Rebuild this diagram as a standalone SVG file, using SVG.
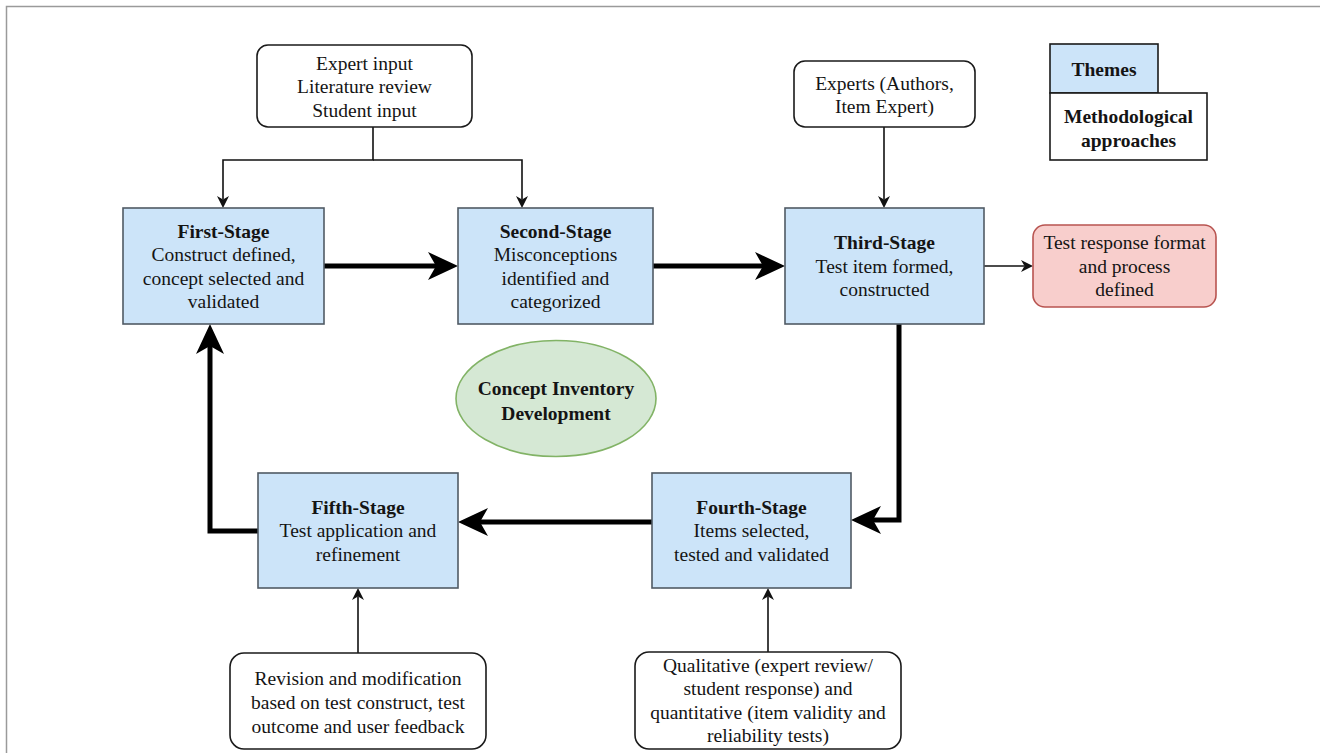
<svg xmlns="http://www.w3.org/2000/svg" width="1320" height="753" viewBox="0 0 1320 753">
<style>
  text { font-family: "Liberation Serif", "Times New Roman", serif; font-size: 19.5px; fill: #141414; text-anchor: middle; }
  .b { font-weight: bold; }
  .stage { fill: #cce4f9; stroke: #505a64; stroke-width: 1.6; }
  .input { fill: #ffffff; stroke: #1a1a1a; stroke-width: 1.6; }
  .thin { fill: none; stroke: #111; stroke-width: 1.6; marker-end: url(#thinHead); }
  .thick { fill: none; stroke: #000; stroke-width: 5; stroke-linejoin: miter; marker-end: url(#thickHead); }
</style>
<defs>
  <marker id="thinHead" markerUnits="userSpaceOnUse" markerWidth="12" markerHeight="12" viewBox="0 0 12 12" refX="3.5" refY="6" orient="auto">
    <path d="M0,0 L12,6 L0,12 L3.5,6 z" fill="#111"/>
  </marker>
  <marker id="thickHead" markerUnits="userSpaceOnUse" markerWidth="30" markerHeight="28" viewBox="0 0 30 28" refX="8" refY="14" orient="auto">
    <path d="M0,0 L30,14 L0,28 L8,14 z" fill="#000"/>
  </marker>
</defs>
<rect x="0" y="0" width="1320" height="753" fill="#ffffff"/>
<path d="M6.5,753 V6.5 H1320" fill="none" stroke="#9a9a9a" stroke-width="1.5"/>

<g id="connectors">
  <path class="thin" d="M373,127 V160 H223 V199.5"/>
  <path class="thin" d="M373,160 H522 V199.5"/>
  <path class="thin" d="M884,127 V199.5"/>
  <path class="thin" d="M984,266 H1024.5"/>
  <path class="thin" d="M358,653 V596.5"/>
  <path class="thin" d="M768,652 V596.5"/>
  <path class="thick" d="M324,266 H436"/>
  <path class="thick" d="M653,266 H763"/>
  <path class="thick" d="M899,324 V520 H873"/>
  <path class="thick" d="M652,522 H480"/>
  <path class="thick" d="M258,531 H210 V346"/>
</g>

<g id="input-top">
  <rect class="input" x="257" y="45" width="215" height="82" rx="11"/>
  <text x="364.5" y="69.5">Expert input</text>
  <text x="364.5" y="93">Literature review</text>
  <text x="364.5" y="116.5">Student input</text>
</g>

<g id="input-experts">
  <rect class="input" x="794" y="61" width="181" height="66" rx="11"/>
  <text x="884.5" y="89.5">Experts (Authors,</text>
  <text x="884.5" y="113">Item Expert)</text>
</g>

<g id="legend">
  <rect x="1050" y="44" width="108" height="49" fill="#cce4f9" stroke="#1a1a1a" stroke-width="1.6"/>
  <text class="b" x="1104" y="75.5">Themes</text>
  <rect x="1050" y="93" width="157" height="67" fill="#ffffff" stroke="#1a1a1a" stroke-width="1.6"/>
  <text class="b" x="1128.5" y="123">Methodological</text>
  <text class="b" x="1128.5" y="146.5">approaches</text>
</g>

<g id="first-stage">
  <rect class="stage" x="123" y="208" width="201" height="116"/>
  <text class="b" x="223.5" y="237.5">First-Stage</text>
  <text x="223.5" y="261">Construct defined,</text>
  <text x="223.5" y="284.5">concept selected and</text>
  <text x="223.5" y="308">validated</text>
</g>

<g id="second-stage">
  <rect class="stage" x="458" y="208" width="195" height="116"/>
  <text class="b" x="555.5" y="237.5">Second-Stage</text>
  <text x="555.5" y="261">Misconceptions</text>
  <text x="555.5" y="284.5">identified and</text>
  <text x="555.5" y="308">categorized</text>
</g>

<g id="third-stage">
  <rect class="stage" x="785" y="208" width="199" height="116"/>
  <text class="b" x="884.5" y="249">Third-Stage</text>
  <text x="884.5" y="272.5">Test item formed,</text>
  <text x="884.5" y="296">constructed</text>
</g>

<g id="response-format">
  <rect x="1033" y="225" width="183" height="82" rx="12" fill="#f8cecc" stroke="#b85450" stroke-width="1.6"/>
  <text x="1124.5" y="249">Test response format</text>
  <text x="1124.5" y="272.5">and process</text>
  <text x="1124.5" y="296">defined</text>
</g>

<g id="center">
  <ellipse cx="556" cy="398.5" rx="100" ry="58" fill="#d5e8d4" stroke="#82b366" stroke-width="1.6"/>
  <text class="b" x="556" y="394.5">Concept Inventory</text>
  <text class="b" x="556" y="419.5">Development</text>
</g>

<g id="fifth-stage">
  <rect class="stage" x="258" y="473" width="200" height="115"/>
  <text class="b" x="358" y="513.5">Fifth-Stage</text>
  <text x="358" y="537">Test application and</text>
  <text x="358" y="560.5">refinement</text>
</g>

<g id="fourth-stage">
  <rect class="stage" x="652" y="473" width="199" height="115"/>
  <text class="b" x="751.5" y="513.5">Fourth-Stage</text>
  <text x="751.5" y="537">Items selected,</text>
  <text x="751.5" y="560.5">tested and validated</text>
</g>

<g id="input-revision">
  <rect class="input" x="230" y="653" width="256" height="96" rx="14"/>
  <text x="358" y="684.5">Revision and modification</text>
  <text x="358" y="708.5">based on test construct, test</text>
  <text x="358" y="732.5">outcome and user feedback</text>
</g>

<g id="input-analysis">
  <rect class="input" x="635" y="652" width="266" height="97" rx="14"/>
  <text x="768" y="671.5">Qualitative (expert review/</text>
  <text x="768" y="695">student response) and</text>
  <text x="768" y="718.5">quantitative (item validity and</text>
  <text x="768" y="742">reliability tests)</text>
</g>
</svg>
